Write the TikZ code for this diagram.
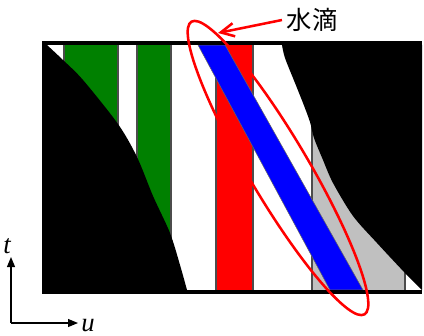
\documentclass[tikz,border=0pt]{standalone}
\usepackage{fontspec}
\setmainfont{Liberation Serif}
\newfontfamily\cjk{Noto Sans CJK JP}
\usetikzlibrary{arrows.meta}
\definecolor{lgray}{RGB}{192,192,192}

\begin{document}
\begin{tikzpicture}[
    x=0.75pt, y=-0.75pt,
    stripe/.style={draw=none},
    sep/.style={draw=black!70, line width=0.8pt},
    wall/.style={fill=black, draw=none},
    band/.style={fill=blue, draw=black!60, line width=0.4pt},
    drop/.style={draw=red, line width=1.9pt},
    axis/.style={line width=0.8pt, -{Triangle[length=7.5pt,width=6pt]}},
    axlab/.style={font=\fontsize{20}{22}\selectfont\itshape, inner sep=0pt},
    droplab/.style={font=\fontsize{19}{21}\selectfont\cjk},
  ]
  \useasboundingbox (0,0) rectangle (424,335);

  % ============ Streifen ============
  \fill[stripe, green!50!black] (64,45) rectangle (118,290);
  \fill[stripe, green!50!black] (137,45) rectangle (171,290);
  \fill[stripe, red] (216,45) rectangle (253,290);
  \fill[stripe, lgray] (312,45) rectangle (405,290);
  \foreach \x in {64,118,137,171,216,253,312,405}
    \draw[sep] (\x,45) -- (\x,290);

  % Wassertropfen (schraeges Band)
  \filldraw[band] (198,45) -- (225,45) -- (363,290) -- (330,290) -- cycle;

  % ============ schwarze Bereiche ============
  \fill[wall] (42,45) -- plot[smooth] coordinates {(47,45) (63,60) (83,80)
        (118,124) (137,157) (153,196) (170,233) (180,265) (187,290)}
        -- (42,290) -- cycle;
  \fill[wall] (422,45) -- plot[smooth] coordinates {(282,45) (285,58) (295,83)
        (303,103) (310,122) (314,138) (323,160) (333,183) (353,216) (377,243)
        (405,273) (422,290)} -- cycle;
  \fill[wall] (42,41) rectangle (422,45);
  \fill[wall] (42,290) rectangle (422,294);

  % ============ Markierung ============
  \draw[drop, rotate around={-59.4:(278,168)}] (278,168)
        ellipse [x radius=170, y radius=30];
  \coordinate (dropTip) at (218,33);
  \node[droplab] (lbl) at (312,20) {水滴};
  \draw[drop, -{Straight Barb[length=10pt,width=10pt]}] (lbl.west) -- (dropTip);

  % ============ Achsen ============
  \coordinate (orig) at (11,323);
  \coordinate (tEnd) at (11,257);
  \coordinate (uEnd) at (78,323);
  \draw[axis] (orig) -- (tEnd);
  \draw[axis] (orig) -- (uEnd);
  \node[axlab, anchor=base] (tLab) at (7,253) {t};
  \node[axlab, anchor=base west] (uLab) at (81,331) {u};

\end{tikzpicture}
\end{document}
